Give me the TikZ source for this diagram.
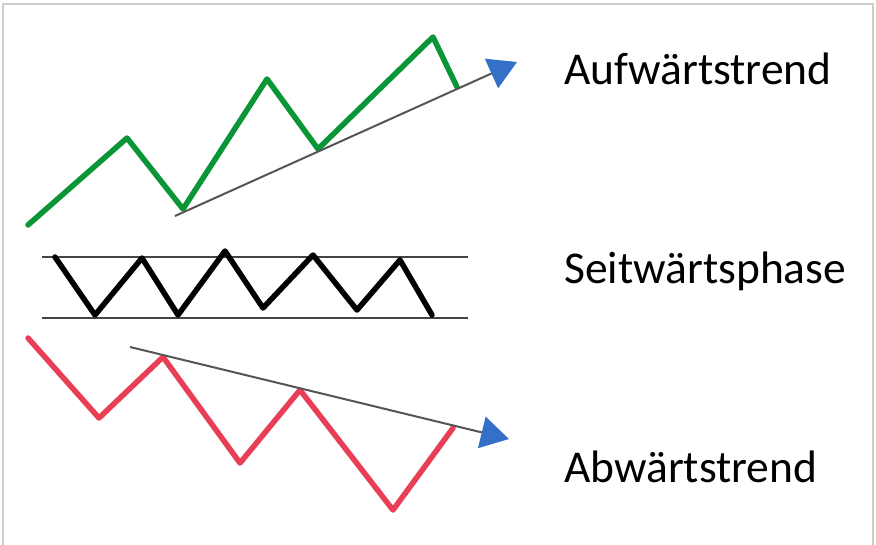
\documentclass[tikz,border=0pt]{standalone}
\usepackage{fontspec}
\setmainfont{Carlito}
\usetikzlibrary{arrows.meta}
\definecolor{upgreen}{RGB}{10,150,55}
\definecolor{downred}{RGB}{232,62,86}
\definecolor{trendgray}{RGB}{85,85,85}
\definecolor{tipblue}{RGB}{52,112,200}
\definecolor{framegray}{RGB}{205,205,205}
\tikzset{
  zig/.style={line width=5.5pt, line join=round, line cap=round},
  trendline/.style={trendgray, line width=2pt, -{Triangle[length=28pt,width=32pt,fill=tipblue,color=tipblue]}},
  bar/.style={trendgray!80!black, line width=2.4pt},
  lbl/.style={anchor=base west, inner sep=0pt, font=\fontsize{45.5}{50}\selectfont}
}
\begin{document}
\begin{tikzpicture}[x=1pt,y=-1pt]
\useasboundingbox (0,0) rectangle (876,544);
\draw[framegray, line width=1.2pt] (3,548) -- (3,4) -- (873,4) -- (873,548);
% up trend
\draw[zig, upgreen] (28,225) -- (127,138) -- (183,209) -- (267,79) -- (318,149) -- (433,37) -- (457,87);
\coordinate (us) at (175,216);
\coordinate (ue) at (517,62);
\draw[trendline] (us) -- (ue);
% sideways
\coordinate (t1) at (42,257); \coordinate (t2) at (468,257);
\coordinate (b1) at (42,318); \coordinate (b2) at (468,318);
\draw[bar] (t1) -- (t2);
\draw[bar] (b1) -- (b2);
\draw[zig, black] (55,257) -- (95,315) -- (142,258) -- (178,315) -- (225,251) -- (263,308) -- (313,255) -- (357,310) -- (400,260) -- (432,315);
% down trend
\draw[zig, downred] (28,338) -- (99,418) -- (163,357) -- (240,463) -- (300,390) -- (393,510) -- (453,428);
\coordinate (ds) at (130,347);
\coordinate (de) at (509,439);
\draw[trendline] (ds) -- (de);
% labels
\node[lbl] (up) at (564,84) {Aufwärtstrend};
\node[lbl] (side) at (564,283) {Seitwärtsphase};
\node[lbl] (down) at (564,482) {Abwärtstrend};
\end{tikzpicture}
\end{document}
